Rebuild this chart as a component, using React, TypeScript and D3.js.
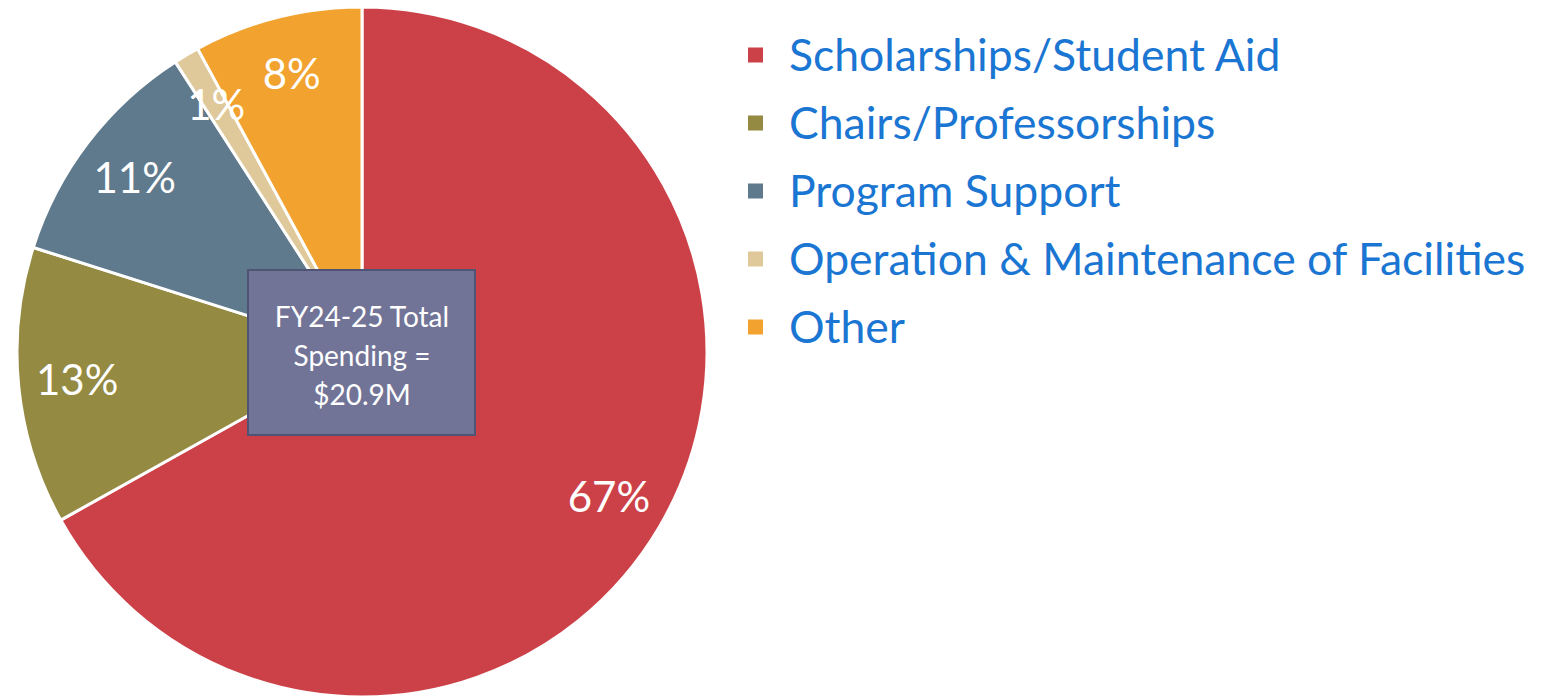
import React, { useEffect, useRef } from "react";
import * as d3 from "d3";

// spending shares (percent)
const categories = [
  "Scholarships/Student Aid",
  "Chairs/Professorships",
  "Program Support",
  "Operation & Maintenance of Facilities",
  "Other",
];
const shares = [66.9, 13.0, 11.0, 1.2, 7.9];
const shareLabels = ["67%", "13%", "11%", "1%", "8%"];
const colors = ["#CC4148", "#948A42", "#5F7A8D", "#DFC99A", "#F2A22E"];
const boxLines = ["FY24-25 Total", "Spending =", "$20.9M"];

const FONT = "Lato, 'Open Sans', sans-serif";

const App = () => {
  const ref = useRef<SVGSVGElement | null>(null);

  useEffect(() => {
    const svg = d3.select(ref.current);
    svg.selectAll("*").remove();

    const cx = 362;
    const cy = 352;
    const r = 345;

    const pie = d3
      .pie<number>()
      .sort(null)
      .value((d) => d);
    const arcs = pie(shares);

    const arc = d3.arc<d3.PieArcDatum<number>>().innerRadius(0).outerRadius(r);
    const labelArc = d3
      .arc<d3.PieArcDatum<number>>()
      .innerRadius(r * 0.83)
      .outerRadius(r * 0.83);

    const g = svg.append("g").attr("transform", `translate(${cx},${cy})`);

    g.selectAll("path")
      .data(arcs)
      .enter()
      .append("path")
      .attr("d", arc as any)
      .style("fill", (d, i) => colors[i])
      .style("stroke", "#fff")
      .style("stroke-width", 3);

    g.selectAll("text.pct")
      .data(arcs)
      .enter()
      .append("text")
      .attr("class", "pct")
      .attr("transform", (d) => {
        const [x, y] = labelArc.centroid(d);
        return `translate(${x},${y})`;
      })
      .attr("text-anchor", "middle")
      .attr("dy", "0.35em")
      .style("fill", "#fff")
      .style("font-family", FONT)
      .style("font-size", "42px")
      .text((d, i) => shareLabels[i]);

    // centre note box
    const box = svg.append("g");
    box
      .append("rect")
      .attr("x", 248)
      .attr("y", 270)
      .attr("width", 227)
      .attr("height", 165)
      .style("fill", "#717497")
      .style("stroke", "#4F5475")
      .style("stroke-width", 2);

    box
      .selectAll("text")
      .data(boxLines)
      .enter()
      .append("text")
      .attr("x", 362)
      .attr("y", (d, i) => 317 + i * 39)
      .attr("text-anchor", "middle")
      .attr("dy", "0.35em")
      .style("fill", "#fff")
      .style("font-family", FONT)
      .style("font-size", "28px")
      .text((d) => d);

    // legend
    const legend = svg.append("g").attr("transform", "translate(748,55)");
    const rows = legend
      .selectAll("g")
      .data(categories)
      .enter()
      .append("g")
      .attr("transform", (d, i) => `translate(0,${i * 68})`);

    rows
      .append("rect")
      .attr("x", 0)
      .attr("y", -7.5)
      .attr("width", 15)
      .attr("height", 15)
      .style("fill", (d, i) => colors[i]);

    rows
      .append("text")
      .attr("x", 41)
      .attr("y", 0)
      .attr("dy", "0.35em")
      .style("fill", "#1A76D2")
      .style("font-family", FONT)
      .style("font-size", "44.5px")
      .text((d) => d);
  }, []);

  return (
    <svg
      ref={ref}
      width={1542}
      height={698}
      style={{ position: "absolute", left: 0, top: 0, background: "#fff" }}
    />
  );
};

export default App;
